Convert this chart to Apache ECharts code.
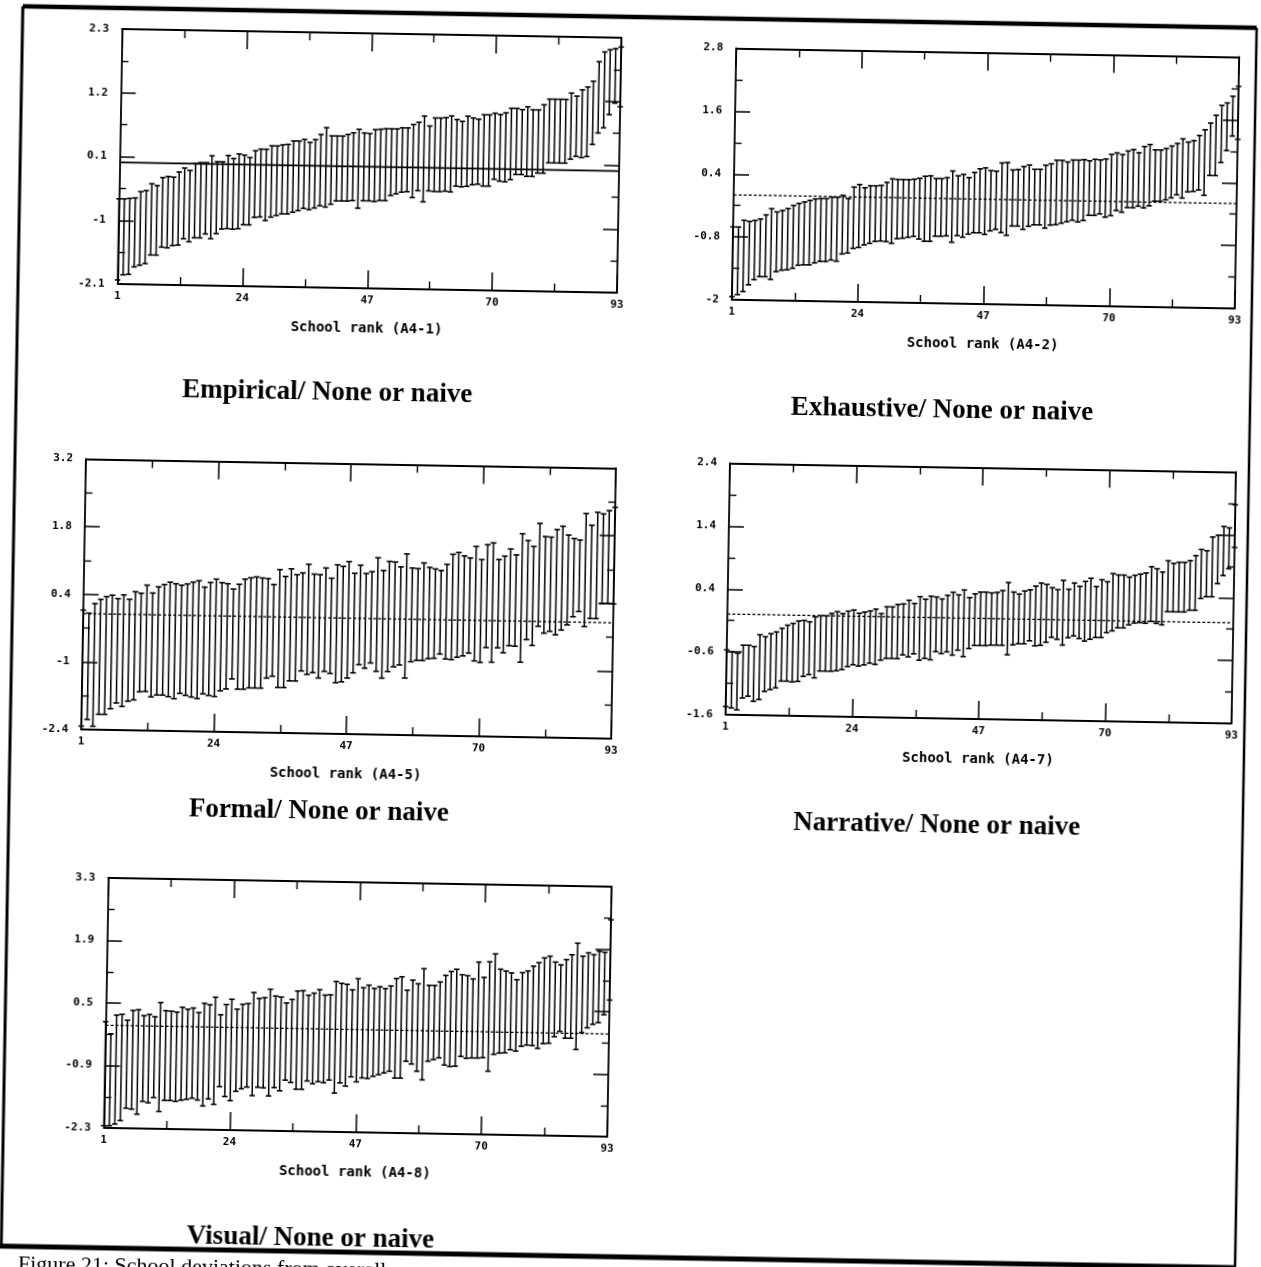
<!DOCTYPE html>
<html>
<head>
<meta charset="utf-8">
<title>School deviations</title>
<script src="https://cdn.jsdelivr.net/npm/echarts@6/dist/echarts.min.js"></script>
<style>
  html, body { margin: 0; padding: 0; background: #fff; overflow: hidden; }
  /* the scanned page is a little tilted, so the whole chart is turned by 1deg */
  #main { position: absolute; left: -40px; top: -40px; width: 1341px; height: 1347px; transform: rotate(1deg); }
</style>
</head>
<body>
<div id="main"></div>
<script>
var xTicks = [1, 24, 47, 70, 93];

var empiricalTicks = [-2.1, -1, 0.1, 1.2, 2.3];
var empiricalHigh = [
  -0.63, -0.63, -0.62, -0.61, -0.5, -0.48, -0.36, -0.39, -0.25, -0.23,
  -0.24, -0.15, -0.08, -0.12, 0.0, 0.02, 0.02, 0.14, 0.04, 0.04,
  0.15, 0.1, 0.18, 0.16, 0.12, 0.24, 0.27, 0.27, 0.33, 0.33,
  0.35, 0.36, 0.42, 0.42, 0.45, 0.4, 0.45, 0.54, 0.66, 0.52,
  0.52, 0.52, 0.55, 0.58, 0.64, 0.58, 0.57, 0.64, 0.65, 0.66,
  0.66, 0.66, 0.68, 0.68, 0.74, 0.78, 0.89, 0.72, 0.86, 0.86,
  0.87, 0.9, 0.84, 0.81, 0.9, 0.87, 0.85, 0.93, 0.93, 0.96,
  0.94, 0.97, 1.05, 1.05, 1.03, 1.08, 1.03, 1.03, 1.12, 1.22,
  1.22, 1.22, 1.22, 1.33, 1.28, 1.39, 1.44, 1.54, 1.88, 2.05,
  2.09, 2.11, 2.14
];
var empiricalLow = [
  -2.03, -1.94, -1.93, -1.8, -1.77, -1.74, -1.59, -1.59, -1.45, -1.46,
  -1.42, -1.41, -1.3, -1.35, -1.28, -1.28, -1.21, -1.29, -1.2, -1.12,
  -1.11, -1.12, -1.11, -1.04, -1.04, -0.91, -0.9, -0.96, -0.9, -0.87,
  -0.84, -0.84, -0.81, -0.78, -0.74, -0.76, -0.73, -0.69, -0.71, -0.66,
  -0.6, -0.6, -0.6, -0.59, -0.72, -0.59, -0.59, -0.6, -0.58, -0.58,
  -0.49, -0.46, -0.43, -0.42, -0.52, -0.4, -0.59, -0.4, -0.41, -0.41,
  -0.4, -0.41, -0.31, -0.32, -0.31, -0.28, -0.27, -0.3, -0.3, -0.18,
  -0.21, -0.22, -0.18, -0.09, -0.09, -0.12, -0.12, -0.06, -0.06, 0.12,
  0.12, 0.12, 0.12, 0.19, 0.24, 0.22, 0.24, 0.45, 0.65, 0.74,
  0.97, 1.17, 1.11
];

var exhaustiveTicks = [-2, -0.8, 0.4, 1.6, 2.8];
var exhaustiveHigh = [
  -0.61, -0.61, -0.48, -0.5, -0.48, -0.45, -0.37, -0.25, -0.31, -0.28,
  -0.24, -0.18, -0.14, -0.11, -0.08, -0.05, -0.04, -0.04, -0.01, -0.01,
  0.03, -0.03, 0.19, 0.24, 0.18, 0.22, 0.22, 0.23, 0.29, 0.36,
  0.35, 0.35, 0.35, 0.36, 0.38, 0.42, 0.43, 0.38, 0.38, 0.4,
  0.53, 0.44, 0.47, 0.41, 0.51, 0.58, 0.6, 0.55, 0.54, 0.7,
  0.71, 0.57, 0.58, 0.64, 0.67, 0.59, 0.59, 0.67, 0.7, 0.77,
  0.77, 0.74, 0.78, 0.78, 0.79, 0.77, 0.8, 0.79, 0.81, 0.9,
  0.93, 0.9, 0.97, 1.0, 0.94, 1.06, 1.1, 1.0, 1.0, 1.03,
  1.08, 1.13, 1.22, 1.16, 1.19, 1.29, 1.4, 1.53, 1.68, 1.87,
  1.92, 2.05, 2.24
];
var exhaustiveLow = [
  -1.94, -1.9, -1.84, -1.71, -1.61, -1.55, -1.55, -1.6, -1.45, -1.42,
  -1.41, -1.38, -1.32, -1.31, -1.31, -1.27, -1.24, -1.24, -1.21, -1.23,
  -1.09, -1.07, -0.98, -0.96, -0.91, -0.88, -0.84, -0.83, -0.84, -0.87,
  -0.78, -0.77, -0.75, -0.73, -0.78, -0.82, -0.82, -0.72, -0.72, -0.71,
  -0.83, -0.7, -0.73, -0.67, -0.64, -0.64, -0.67, -0.6, -0.57, -0.63,
  -0.68, -0.5, -0.5, -0.56, -0.5, -0.47, -0.47, -0.53, -0.47, -0.46,
  -0.43, -0.4, -0.37, -0.4, -0.37, -0.27, -0.27, -0.24, -0.3, -0.27,
  -0.17, -0.2, -0.11, -0.11, -0.08, -0.11, -0.07, 0.02, 0.02, 0.05,
  0.09, 0.15, 0.09, 0.21, 0.22, 0.25, 0.15, 0.53, 0.53, 0.78,
  1.01, 1.29, 1.23
];

var formalTicks = [-2.4, -1, 0.4, 1.8, 3.2];
var formalHigh = [
  0.07, 0.01, 0.21, 0.3, 0.36, 0.39, 0.32, 0.4, 0.31, 0.47,
  0.44, 0.61, 0.45, 0.58, 0.63, 0.68, 0.65, 0.62, 0.65, 0.69,
  0.72, 0.59, 0.69, 0.76, 0.69, 0.67, 0.56, 0.66, 0.77, 0.8,
  0.82, 0.8, 0.79, 0.67, 0.98, 0.84, 1.0, 0.88, 0.92, 1.1,
  0.9, 0.89, 1.03, 0.82, 1.1, 1.07, 1.17, 0.93, 1.1, 0.93,
  0.97, 1.26, 1.0, 1.19, 1.18, 1.08, 1.35, 1.06, 1.05, 1.17,
  1.08, 1.05, 1.02, 1.15, 1.36, 1.4, 1.33, 1.29, 1.53, 1.26,
  1.57, 1.61, 1.27, 1.34, 1.49, 1.37, 1.81, 1.67, 1.55, 2.03,
  1.76, 1.75, 1.91, 1.98, 1.8, 1.73, 1.7, 2.25, 2.01, 2.28,
  2.25, 2.32, 2.39
];
var formalLow = [
  -2.33, -2.19, -2.33, -2.08, -2.08, -1.96, -1.84, -1.91, -1.8, -1.77,
  -1.6, -1.59, -1.7, -1.66, -1.66, -1.69, -1.73, -1.62, -1.66, -1.69,
  -1.72, -1.62, -1.65, -1.67, -1.55, -1.51, -1.3, -1.51, -1.51, -1.48,
  -1.48, -1.48, -1.27, -1.23, -1.46, -1.46, -1.32, -1.32, -1.11, -1.18,
  -1.14, -1.25, -1.11, -1.15, -1.34, -1.32, -1.24, -1.13, -0.96, -1.03,
  -0.92, -1.09, -1.23, -1.09, -0.99, -0.95, -1.22, -0.88, -0.85, -0.85,
  -0.81, -0.8, -0.71, -0.81, -0.82, -0.77, -0.74, -0.68, -0.84, -0.87,
  -0.56, -0.86, -0.56, -0.66, -0.51, -0.52, -0.85, -0.38, -0.5, -0.1,
  -0.24, -0.2, -0.27, -0.17, -0.06, 0.11, 0.22, -0.09, 0.08, 0.08,
  0.39, 0.4, 0.39
];

var narrativeTicks = [-1.6, -0.6, 0.4, 1.4, 2.4];
var narrativeHigh = [
  -0.57, -0.6, -0.62, -0.49, -0.49, -0.51, -0.32, -0.35, -0.3, -0.27,
  -0.21, -0.16, -0.13, -0.09, -0.08, -0.1, -0.02, 0.0, 0.0, 0.04,
  0.07, 0.04, 0.08, 0.1, 0.05, 0.07, 0.09, 0.12, 0.05, 0.16,
  0.16, 0.2, 0.21, 0.27, 0.22, 0.33, 0.29, 0.34, 0.33, 0.3,
  0.36, 0.41, 0.37, 0.45, 0.33, 0.39, 0.42, 0.42, 0.41, 0.42,
  0.45, 0.58, 0.43, 0.4, 0.45, 0.47, 0.53, 0.58, 0.56, 0.51,
  0.48, 0.63, 0.49, 0.59, 0.54, 0.62, 0.67, 0.54, 0.65, 0.62,
  0.75, 0.73, 0.73, 0.7, 0.73, 0.75, 0.77, 0.87, 0.84, 0.79,
  0.97, 0.93, 0.95, 0.95, 0.98, 1.06, 1.16, 1.14, 1.36, 1.39,
  1.53, 1.51, 1.88
];
var narrativeLow = [
  -1.47, -1.49, -1.52, -1.33, -1.3, -1.38, -1.35, -1.22, -1.19, -1.16,
  -1.05, -1.05, -1.06, -1.05, -0.97, -0.94, -0.99, -0.88, -0.88, -0.88,
  -0.87, -0.85, -0.8, -0.77, -0.79, -0.77, -0.74, -0.76, -0.69, -0.66,
  -0.66, -0.66, -0.6, -0.63, -0.58, -0.68, -0.65, -0.67, -0.54, -0.57,
  -0.54, -0.59, -0.51, -0.61, -0.48, -0.43, -0.43, -0.43, -0.42, -0.42,
  -0.42, -0.57, -0.41, -0.39, -0.39, -0.34, -0.42, -0.41, -0.36, -0.28,
  -0.31, -0.4, -0.28, -0.25, -0.29, -0.33, -0.3, -0.27, -0.27, -0.19,
  -0.16, -0.11, -0.11, -0.06, -0.03, -0.02, -0.03, 0.0, -0.03, -0.05,
  0.16, 0.16, 0.16, 0.16, 0.19, 0.19, 0.38, 0.41, 0.41, 0.62,
  0.75, 0.86, 1.2
];

var visualTicks = [-2.3, -0.9, 0.5, 1.9, 3.3];
var visualHigh = [
  0.08, -0.19, 0.23, 0.25, 0.12, 0.34, 0.36, 0.23, 0.26, 0.21,
  0.53, 0.35, 0.34, 0.32, 0.43, 0.39, 0.42, 0.32, 0.53, 0.5,
  0.67, 0.28, 0.51, 0.63, 0.41, 0.52, 0.54, 0.79, 0.66, 0.68,
  0.87, 0.72, 0.7, 0.57, 0.65, 0.84, 0.85, 0.75, 0.8, 0.88,
  0.76, 0.77, 1.07, 1.03, 1.01, 0.89, 1.14, 0.94, 1.0, 0.93,
  0.97, 0.93, 0.99, 1.16, 1.2, 0.9, 1.13, 1.05, 1.39, 1.02,
  1.02, 1.1, 1.25, 1.34, 1.39, 1.27, 1.25, 1.18, 1.56, 1.22,
  1.57, 1.75, 1.41, 1.37, 1.33, 1.18, 1.34, 1.38, 1.49, 1.57,
  1.68, 1.72, 1.59, 1.53, 1.65, 1.76, 2.02, 1.73, 1.81, 1.77,
  1.85, 1.83, 2.56
];
var visualLow = [
  -2.25, -2.25, -2.21, -2.13, -1.85, -1.87, -1.98, -1.69, -1.72, -1.6,
  -1.91, -1.66, -1.66, -1.68, -1.65, -1.63, -1.6, -1.64, -1.77, -1.61,
  -1.73, -1.33, -1.55, -1.64, -1.43, -1.37, -1.33, -1.52, -1.33, -1.34,
  -1.52, -1.33, -1.4, -1.16, -1.21, -1.36, -1.36, -1.17, -1.23, -1.18,
  -1.2, -1.14, -1.43, -1.2, -1.27, -1.06, -1.17, -1.08, -1.09, -1.04,
  -1.0, -0.96, -0.92, -1.07, -1.07, -0.69, -0.75, -0.91, -1.1, -0.68,
  -0.64, -0.6, -0.76, -0.79, -0.78, -0.56, -0.6, -0.59, -0.59, -0.58,
  -0.88, -0.5, -0.47, -0.46, -0.39, -0.42, -0.31, -0.28, -0.29, -0.35,
  -0.24, -0.23, -0.08, 0.04, -0.11, -0.11, -0.36, 0.02, 0.13, 0.21,
  0.25, 0.43, 0.76
];

var titles = [
  "Empirical/ None or naive",
  "Exhaustive/ None or naive",
  "Formal/ None or naive",
  "Narrative/ None or naive",
  "Visual/ None or naive"
];
var axisNames = [
  "School rank (A4-1)",
  "School rank (A4-2)",
  "School rank (A4-5)",
  "School rank (A4-7)",
  "School rank (A4-8)"
];
var refLevel = [0, 0, 0, 0, 0];

// where each panel sits inside the (tilted) chart box
var layout = [
  { left: 151.5, top: 78, width: 499.5, height: 255, tx: 363, ty: 438, dash: "solid" },
  { left: 766, top: 86.5, width: 503, height: 251.5, tx: 978, ty: 445, dash: [3, 2] },
  { left: 123, top: 508.5, width: 530, height: 270.5, tx: 362, ty: 857, dash: [3, 2] },
  { left: 767, top: 501.5, width: 506, height: 251.5, tx: 980, ty: 860, dash: [3, 2] },
  { left: 152.5, top: 927, width: 503.5, height: 250, tx: 361, ty: 1284, dash: [3, 2] }
];

var panels = [
  { ticks: empiricalTicks, low: empiricalLow, high: empiricalHigh },
  { ticks: exhaustiveTicks, low: exhaustiveLow, high: exhaustiveHigh },
  { ticks: formalTicks, low: formalLow, high: formalHigh },
  { ticks: narrativeTicks, low: narrativeLow, high: narrativeHigh },
  { ticks: visualTicks, low: visualLow, high: visualHigh }
];

var monoFont = "DejaVu Sans Mono";

function renderBar(params, api) {
  var x = api.value(0);
  var lo = api.coord([x, api.value(1)]);
  var hi = api.coord([x, api.value(2)]);
  var hw = api.size([1, 0])[0] * 0.5;
  return {
    type: "group",
    children: [
      { type: "line", shape: { x1: lo[0], y1: lo[1], x2: hi[0], y2: hi[1] }, style: { stroke: "#000", lineWidth: 1.5 } },
      { type: "line", shape: { x1: hi[0] - hw, y1: hi[1], x2: hi[0] + hw, y2: hi[1] }, style: { stroke: "#000", lineWidth: 1.6 } },
      { type: "line", shape: { x1: lo[0] - hw, y1: lo[1], x2: lo[0] + hw, y2: lo[1] }, style: { stroke: "#000", lineWidth: 1.6 } }
    ]
  };
}

function xAxisFor(i, onTop) {
  return {
    type: "value",
    gridIndex: i,
    position: onTop ? "top" : "bottom",
    min: xTicks[0],
    max: xTicks[xTicks.length - 1],
    interval: xTicks[1] - xTicks[0],
    name: onTop ? "" : axisNames[i],
    nameLocation: "middle",
    nameGap: 33,
    nameTextStyle: { fontFamily: monoFont, fontWeight: "bold", fontSize: 14, color: "#000" },
    axisLine: { show: true, onZero: false, lineStyle: { color: "#000", width: 1.8 } },
    axisTick: { show: true, inside: true, length: 18, lineStyle: { color: "#000", width: 1.5 } },
    minorTick: { show: true, splitNumber: 2, length: 8, lineStyle: { color: "#000", width: 1.4 } },
    splitLine: { show: false },
    axisLabel: {
      show: !onTop,
      margin: 7,
      fontFamily: monoFont,
      fontWeight: "bold",
      fontSize: 11,
      color: "#000"
    }
  };
}

function yAxisFor(i, onRight) {
  var t = panels[i].ticks;
  return {
    type: "value",
    gridIndex: i,
    position: onRight ? "right" : "left",
    min: t[0],
    max: t[t.length - 1],
    interval: +(t[1] - t[0]).toFixed(2),
    axisLine: { show: true, onZero: false, lineStyle: { color: "#000", width: 1.8 } },
    axisTick: { show: true, inside: true, length: 15, lineStyle: { color: "#000", width: 1.5 } },
    minorTick: { show: true, splitNumber: 2, length: 7, lineStyle: { color: "#000", width: 1.4 } },
    splitLine: { show: false },
    axisLabel: {
      show: !onRight,
      margin: 13,
      fontFamily: monoFont,
      fontWeight: "bold",
      fontSize: 11,
      color: "#000",
      formatter: function(v) {
        return String(+v.toFixed(1));
      }
    }
  };
}

var option = {
  animation: false,
  backgroundColor: "#fff",
  grid: [],
  xAxis: [],
  yAxis: [],
  series: [],
  graphic: { elements: [] }
};

for (var i = 0; i < panels.length; i++) {
  var L = layout[i];
  option.grid.push({ left: L.left, top: L.top, width: L.width, height: L.height });
  option.xAxis.push(xAxisFor(i, false));
  option.xAxis.push(xAxisFor(i, true));
  option.yAxis.push(yAxisFor(i, false));
  option.yAxis.push(yAxisFor(i, true));

  var bars = panels[i].low.map(function(v, k) {
    return [k + 1, v, this.high[k]];
  }, panels[i]);

  option.series.push({
    type: "custom",
    xAxisIndex: i * 2,
    yAxisIndex: i * 2,
    renderItem: renderBar,
    encode: { x: 0, y: [1, 2] },
    data: bars,
    z: 3
  });
  option.series.push({
    type: "line",
    xAxisIndex: i * 2,
    yAxisIndex: i * 2,
    symbol: "none",
    silent: true,
    lineStyle: { color: "#000", width: i === 0 ? 1.8 : 1.3, type: L.dash },
    data: [
      [xTicks[0], refLevel[i]],
      [xTicks[xTicks.length - 1], refLevel[i]]
    ],
    z: 2
  });

  option.graphic.elements.push({
    type: "text",
    x: L.tx,
    y: L.ty,
    style: {
      text: titles[i],
      font: 'bold 27px "Liberation Serif"',
      fill: "#000",
      textAlign: "center",
      textVerticalAlign: "middle"
    }
  });
}

// page frame of the scanned figure and the clipped caption under it
var frame = [
  [52, 57, 1286, 57, 4.5],
  [52, 57, 52, 1297, 3],
  [1286, 57, 1286, 1297, 2.5],
  [40, 1297, 1286, 1297, 5]
];
frame.forEach(function(f) {
  option.graphic.elements.push({
    type: "line",
    shape: { x1: f[0], y1: f[1], x2: f[2], y2: f[3] },
    style: { stroke: "#000", lineWidth: f[4] }
  });
});
option.graphic.elements.push({
  type: "text",
  x: 69,
  y: 1304,
  style: {
    text: "Figure 21: School deviations from overall",
    font: '22px "Liberation Serif"',
    fill: "#000",
    textAlign: "left",
    textVerticalAlign: "top"
  }
});

var myChart = echarts.init(document.getElementById("main"));
myChart.setOption(option);
</script>
</body>
</html>
